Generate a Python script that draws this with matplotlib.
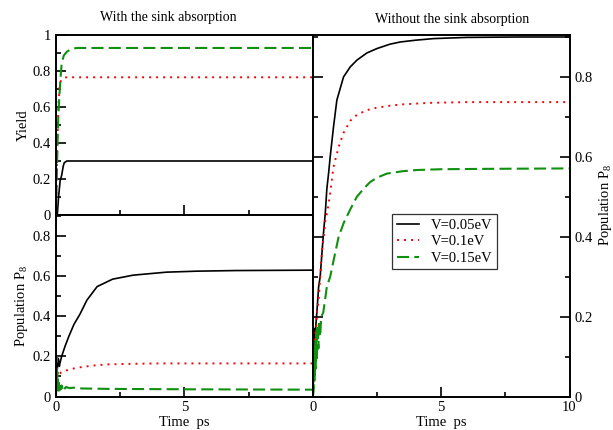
import matplotlib
matplotlib.use("Agg")
import matplotlib.pyplot as plt
from matplotlib.ticker import MultipleLocator, FuncFormatter

plt.rcParams["font.family"] = ["Liberation Serif", "DejaVu Serif"]
plt.rcParams["mathtext.fontset"] = "custom"
plt.rcParams["mathtext.rm"] = "Liberation Serif"
plt.rcParams["mathtext.it"] = "Liberation Serif:italic"

labels = ["V=0.05eV", "V=0.1eV", "V=0.15eV"]

# ---- yield with sink absorption ----
yield_t_005 = [0, 0.05, 0.1, 0.16, 0.22, 0.28, 0.32, 0.42, 10]
yield_v_005 = [0, 0, 0.1, 0.19, 0.22, 0.27, 0.29, 0.3, 0.3]
yield_t_010 = [0, 0.02, 0.05, 0.1, 0.15, 0.2, 0.3, 0.4, 10]
yield_v_010 = [0, 0.15, 0.4, 0.62, 0.73, 0.75, 0.76, 0.765, 0.765]
yield_t_015 = [0, 0.03, 0.06, 0.09, 0.13, 0.17, 0.22, 0.3, 0.42, 0.6, 0.8, 10]
yield_v_015 = [0, 0.2, 0.4, 0.55, 0.66, 0.75, 0.84, 0.885, 0.907, 0.922, 0.928, 0.928]

# ---- population P8 with sink absorption ----
sink_t_005 = [0, 0.03, 0.06, 0.09, 0.13, 0.16, 0.22, 0.35, 0.5, 0.7, 0.93, 1.2,
              1.6, 2.2, 3.0, 4.3, 5.5, 7.0, 10]
sink_v_005 = [0, 0.08, 0.16, 0.19, 0.15, 0.17, 0.2, 0.25, 0.3, 0.36, 0.41, 0.48,
              0.548, 0.585, 0.605, 0.62, 0.625, 0.628, 0.63]
sink_t_010 = [0, 0.02, 0.05, 0.1, 0.2, 0.4, 0.7, 1.0, 1.5, 2.0, 3.0, 4.0, 6.0, 10]
sink_v_010 = [0, 0.08, 0.12, 0.11, 0.12, 0.13, 0.14, 0.147, 0.155, 0.16, 0.163,
              0.165, 0.165, 0.165]
sink_t_015 = [0, 0.02, 0.04, 0.06, 0.08, 0.1, 0.12, 0.15, 0.18, 0.22, 0.26, 0.3,
              0.35, 0.4, 0.5, 0.7, 1.0, 2.0, 5.0, 10]
sink_v_015 = [0, 0.2, 0.06, 0.12, 0.03, 0.07, 0.03, 0.06, 0.035, 0.055, 0.035,
              0.05, 0.04, 0.048, 0.042, 0.044, 0.04, 0.038, 0.036, 0.034]

# ---- population P8 without sink absorption ----
free_t_005 = [0, 0.03, 0.05, 0.08, 0.1, 0.15, 0.22, 0.28, 0.35, 0.41, 0.48, 0.54,
              0.61, 0.67, 0.8, 0.93, 1.19, 1.45, 1.71, 2.1, 2.49, 3.0, 3.4, 4.0,
              4.7, 6.0, 8.0, 10]
free_v_005 = [0, 0.1, 0.17, 0.14, 0.17, 0.21, 0.275, 0.3, 0.36, 0.41, 0.46, 0.52,
              0.56, 0.6, 0.675, 0.742, 0.8, 0.825, 0.842, 0.86, 0.871, 0.882,
              0.8875, 0.892, 0.896, 0.899, 0.9, 0.9]
free_t_010 = [0, 0.03, 0.06, 0.09, 0.12, 0.16, 0.22, 0.28, 0.35, 0.42, 0.48, 0.55,
              0.65, 0.8, 1.0, 1.19, 1.45, 1.71, 2.1, 2.49, 3.0, 3.4, 4.5, 6.0, 10]
free_v_010 = [0, 0.08, 0.14, 0.16, 0.17, 0.217, 0.24, 0.3, 0.367, 0.4, 0.44, 0.46,
              0.5, 0.575, 0.625, 0.66, 0.69, 0.705, 0.717, 0.723, 0.728, 0.731,
              0.735, 0.737, 0.737]
free_t_015 = [0, 0.03, 0.05, 0.07, 0.09, 0.11, 0.13, 0.15, 0.18, 0.21, 0.24, 0.28,
              0.32, 0.4, 0.54, 0.67, 0.8, 1.0, 1.2, 1.45, 1.71, 2.0, 2.23, 2.5,
              2.88, 3.5, 4.05, 5.0, 7.0, 10]
free_v_015 = [0, 0.02, 0.1, 0.04, 0.14, 0.07, 0.17, 0.09, 0.18, 0.12, 0.19, 0.15,
              0.2, 0.21, 0.275, 0.3, 0.34, 0.4, 0.435, 0.468, 0.5, 0.522, 0.537,
              0.548, 0.558, 0.564, 0.567, 0.569, 0.57, 0.571]

styles = [
    dict(color="black", lw=1.2, ls="-"),
    dict(color="red", lw=1.4, ls=(0, (1, 2.6))),
    dict(color="#109010", lw=1.5, ls=(0, (5.8, 2.5))),
]

W, H = 613, 430
fig = plt.figure(figsize=(W / 100, H / 100), dpi=100)


def box(x0, y0, x1, y1):
    return [x0 / W, 1 - y1 / H, (x1 - x0) / W, (y1 - y0) / H]


ax_y = fig.add_axes(box(56, 35, 313, 215))
ax_s = fig.add_axes(box(56, 215, 313, 396.5))
ax_f = fig.add_axes(box(313, 35, 569.5, 396.5))

fmt = FuncFormatter(lambda v, p: "%g" % round(v, 3))

for ax in (ax_y, ax_s, ax_f):
    for sp in ax.spines.values():
        sp.set_linewidth(1.4)
    ax.set_xlim(0, 10)
    ax.xaxis.set_major_locator(MultipleLocator(5))
    ax.xaxis.set_minor_locator(MultipleLocator(2.5))
    ax.yaxis.set_major_locator(MultipleLocator(0.2))
    ax.yaxis.set_minor_locator(MultipleLocator(0.1))
    ax.yaxis.set_major_formatter(fmt)
    ax.xaxis.set_major_formatter(fmt)
    ax.tick_params(which="both", direction="in", top=False, labelsize=10.5,
                   width=1.2)
    ax.tick_params(which="major", length=7)
    ax.tick_params(which="minor", length=3.6)

# yield panel
ax_y.set_ylim(0, 1)
ax_y.tick_params(which="both", right=False, labelbottom=False)
for t, v, st in zip([yield_t_005, yield_t_010, yield_t_015],
                    [yield_v_005, yield_v_010, yield_v_015], styles):
    ax_y.plot(t, v, **st)
ax_y.set_ylabel("Yield", fontsize=10.5)
ax_y.yaxis.set_label_coords(-0.103, 0.5)

# population with sink
ax_s.set_ylim(0, 0.905)
ax_s.tick_params(which="both", right=False)
ax_s.set_xticks([0, 5, 10])
ax_s.set_xticklabels(["0", "5", ""])
for t, v, st in zip([sink_t_005, sink_t_010, sink_t_015],
                    [sink_v_005, sink_v_010, sink_v_015], styles):
    ax_s.plot(t, v, **st)
ax_s.set_ylabel(r"Population P$_8$", fontsize=10.5)
ax_s.yaxis.set_label_coords(-0.103, 0.5)
ax_s.set_xlabel("Time  ps", fontsize=10.5, labelpad=1)

# population without sink
ax_f.set_ylim(0, 0.905)
ax_f.tick_params(which="both", left=True, right=True, labelleft=False,
                 labelright=True)
for t, v, st, lab in zip([free_t_005, free_t_010, free_t_015],
                         [free_v_005, free_v_010, free_v_015], styles, labels):
    ax_f.plot(t, v, label=lab, **st)
ax_f.yaxis.set_label_position("right")
ax_f.set_ylabel(r"Population P$_8$", fontsize=10.5)
ax_f.yaxis.set_label_coords(1.108, 0.53)
ax_f.set_xlabel("Time  ps", fontsize=10.5, labelpad=1)
leg = ax_f.legend(loc="upper left", bbox_to_anchor=(0.309, 0.504),
                  fontsize=10.5, frameon=True, fancybox=False, handlelength=1.55,
                  handletextpad=0.8, borderpad=0.3, labelspacing=0.22,
                  borderaxespad=0)
leg.get_frame().set_edgecolor("black")
leg.get_frame().set_linewidth(0.9)

fig.text(168 / W, 1 - 17 / H, "With the sink absorption", ha="center",
         va="center", fontsize=10)
fig.text(452 / W, 1 - 19 / H, "Without the sink absorption", ha="center",
         va="center", fontsize=10)

fig.savefig("out.png", dpi=100)
